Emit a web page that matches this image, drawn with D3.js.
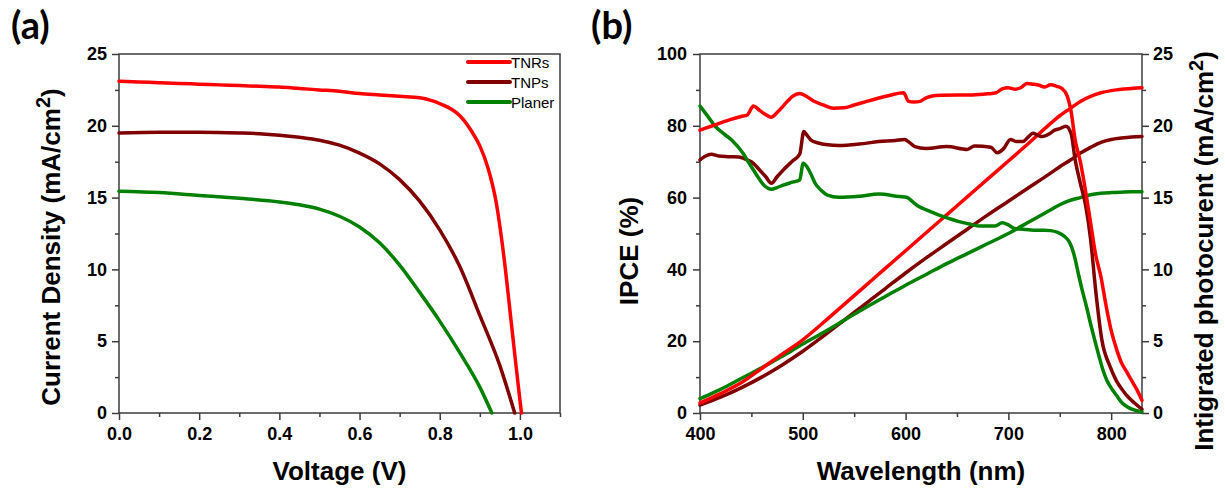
<!DOCTYPE html>
<html>
<head>
  <meta charset="utf-8">
  <title>J-V and IPCE</title>
  <script src="https://cdn.jsdelivr.net/npm/d3@7"></script>
  <style>
    body { margin: 0; background: #fff; }
    svg text { font-family: 'Liberation Sans', Arial, sans-serif; fill: #000; }
    .axis path { display: none; }
    .axis line { stroke: #3c3c3c; stroke-width: 1.5px; }
    .axis text { font-size: 18px; font-weight: bold; }
    .frame { fill: none; stroke: #3c3c3c; stroke-width: 1.5px; }
    .title { font-size: 26px; font-weight: bold; }
    .panel { font-family: Lato, 'Open Sans', sans-serif !important; font-size: 38px; font-weight: bold; }
    .legend { font-size: 15px; }
    .curve { fill: none; stroke-width: 3.5px; stroke-linejoin: round; stroke-linecap: round; }
  </style>
</head>
<body>
<svg id="chart" width="1225" height="491"></svg>

<script>
// ---- data ----
var seriesNames = ['TNRs', 'TNPs', 'Planer'];
var seriesColors = ['#ff0000', '#800000', '#008000'];

// (a) J-V curves: voltage (V), current density (mA/cm2)
var jvVoltTNRs = [0, 0.05, 0.1, 0.15, 0.2, 0.25, 0.3, 0.35, 0.4, 0.45, 0.5, 0.55, 0.6, 0.65, 0.7, 0.75, 0.78, 0.8, 0.82, 0.84, 0.86, 0.88, 0.9, 0.92, 0.94, 0.96, 0.98, 1.0, 1.004];
var jvCurrTNRs = [23.1, 23.05, 23.0, 22.95, 22.9, 22.85, 22.8, 22.75, 22.7, 22.6, 22.5, 22.4, 22.25, 22.15, 22.05, 21.95, 21.75, 21.55, 21.3, 20.95, 20.4, 19.6, 18.6, 17.1, 14.8, 10.9, 5.9, 0.9, 0];
var jvVoltTNPs = [0, 0.1, 0.2, 0.3, 0.35, 0.4, 0.45, 0.5, 0.55, 0.6, 0.65, 0.7, 0.75, 0.8, 0.85, 0.9, 0.95, 0.987];
var jvCurrTNPs = [19.5, 19.55, 19.55, 19.5, 19.45, 19.35, 19.2, 19.0, 18.65, 18.1, 17.35, 16.25, 14.75, 12.75, 10.2, 6.8, 3.3, 0];
var jvVoltPlaner = [0, 0.1, 0.2, 0.3, 0.4, 0.45, 0.5, 0.55, 0.6, 0.65, 0.7, 0.75, 0.8, 0.85, 0.9, 0.93];
var jvCurrPlaner = [15.45, 15.35, 15.15, 14.95, 14.7, 14.5, 14.2, 13.7, 12.95, 11.85, 10.3, 8.4, 6.4, 4.2, 1.8, 0];

// (b) IPCE (%) vs wavelength (nm)
var ipceWaveTNRs = [400, 410, 420, 430, 440, 446, 452, 458, 463, 469, 476, 485, 490, 497, 503, 510, 520, 530, 540, 550, 560, 575, 585, 594, 598, 603, 608, 614, 620, 626, 635, 650, 665, 680, 688, 694, 700, 706, 712, 718, 724, 730, 735, 741, 747, 752, 757, 761, 765, 770, 775, 780, 785, 790, 795, 800, 805, 810, 815, 820, 825, 830];
var ipceTNRs = [78.8, 79.8, 80.8, 81.8, 82.6, 83.0, 85.5, 84.3, 83.3, 82.4, 84.0, 86.8, 88.2, 89.0, 88.3, 87.0, 85.8, 84.9, 85.0, 85.8, 86.6, 87.8, 88.5, 89.1, 89.2, 86.8, 86.6, 86.8, 87.8, 88.3, 88.5, 88.6, 88.6, 88.9, 89.2, 90.3, 90.6, 90.2, 90.6, 91.8, 91.6, 91.3, 90.8, 91.4, 91.0, 90.4, 88.5, 84.0, 76.0, 70.0, 62.0, 53.0, 44.0, 38.0, 30.0, 23.0, 18.0, 14.0, 11.5, 9.0, 6.5, 3.5];
var ipceWaveTNPs = [400, 405, 411, 418, 427, 438, 445, 450, 458, 464, 469.5, 475, 481, 490, 497, 501, 504, 508, 515, 524, 535, 555, 574, 590, 599, 604, 609, 620, 640, 660, 667, 683, 689, 695, 702, 708, 714, 719, 724, 729, 733, 740, 745, 750, 756, 761, 765, 770, 775, 780, 785, 791, 799, 805, 811, 817, 823, 830];
var ipceTNPs = [70.5, 71.5, 72.1, 71.6, 71.4, 71.3, 70.6, 70.0, 67.7, 65.8, 64.0, 65.8, 67.7, 70.2, 72.1, 78.4, 77.4, 76.0, 75.2, 74.7, 74.5, 74.9, 75.6, 75.9, 76.2, 75.3, 74.2, 73.7, 74.2, 73.4, 74.4, 74.0, 72.5, 73.5, 76.2, 75.6, 75.6, 76.8, 77.9, 77.3, 77.0, 77.8, 78.8, 79.2, 79.9, 77.9, 70.5, 64.0, 58.0, 48.4, 34.0, 20.3, 12.9, 9.0, 6.4, 4.3, 2.7, 1.0];
var ipceWavePlaner = [400, 408, 415, 423, 431, 442, 448, 454, 462, 469.5, 475, 481, 490, 497, 500.4, 504, 508, 512, 518, 524, 535, 555, 574, 594, 601, 607, 613, 622, 632, 642, 652, 661, 671, 680, 687, 694, 700, 706, 714, 722, 732, 741, 748, 755, 759, 764, 768, 772, 776, 780, 784, 788, 792, 796, 800, 805, 811, 817, 823, 830];
var ipcePlaner = [85.5, 82.5, 79.8, 77.8, 76.0, 72.3, 69.5, 66.8, 63.5, 62.3, 62.8, 63.5, 64.3, 64.9, 69.6, 68.6, 66.5, 64.0, 62.0, 60.7, 60.1, 60.4, 61.0, 60.3, 60.1, 58.8, 57.5, 56.4, 55.2, 54.2, 53.3, 52.7, 52.1, 52.1, 52.1, 53.0, 52.4, 51.4, 51.2, 51.0, 50.9, 50.8, 50.3, 49.1, 47.8, 44.0, 38.9, 34.0, 29.6, 24.8, 20.3, 16.0, 12.0, 9.0, 7.0, 5.0, 2.7, 1.5, 0.8, 0.3];

// (b) integrated photocurrent (mA/cm2) vs wavelength (nm)
var integWave = [400, 420, 440, 460, 480, 500, 520, 540, 560, 580, 600, 620, 640, 660, 680, 700, 720, 740, 750, 760, 770, 780, 790, 800, 810, 820, 830];
var integTNRs = [0.7, 1.35, 2.1, 3.1, 4.1, 5.1, 6.3, 7.55, 8.8, 10.05, 11.3, 12.55, 13.8, 15.05, 16.3, 17.55, 18.8, 20.1, 20.7, 21.2, 21.7, 22.05, 22.3, 22.45, 22.55, 22.6, 22.65];
var integTNPs = [0.55, 1.1, 1.75, 2.5, 3.35, 4.3, 5.35, 6.45, 7.55, 8.65, 9.75, 10.8, 11.8, 12.8, 13.8, 14.75, 15.7, 16.65, 17.15, 17.6, 18.1, 18.5, 18.85, 19.05, 19.15, 19.22, 19.25];
var integPlaner = [1.0, 1.65, 2.4, 3.15, 3.95, 4.8, 5.6, 6.45, 7.3, 8.1, 8.9, 9.65, 10.4, 11.1, 11.8, 12.5, 13.3, 14.1, 14.5, 14.8, 15.0, 15.2, 15.3, 15.35, 15.38, 15.4, 15.4];

var svg = d3.select('#chart');

function zip(xs, ys) { return xs.map((x, i) => [x, ys[i]]); }

// adds major (labelled) and minor ticks on one side
function addAxis(g, axisFn, scale, major, minor, fmt, pad, transform) {
  g.append('g').attr('class', 'axis').attr('transform', transform)
    .call(axisFn(scale).tickValues(major).tickFormat(fmt).tickSize(7).tickSizeOuter(0).tickPadding(pad));
  g.append('g').attr('class', 'axis').attr('transform', transform)
    .call(axisFn(scale).tickValues(minor).tickFormat('').tickSize(4).tickSizeOuter(0));
}

// ================= panel (a) =================
var xA = d3.scaleLinear().domain([0, 1.1]).range([119, 560]);
var yA = d3.scaleLinear().domain([0, 25]).range([413, 54]);

var gA = svg.append('g');
gA.append('rect').attr('class', 'frame')
  .attr('x', xA(0)).attr('y', yA(25))
  .attr('width', xA(1.1) - xA(0)).attr('height', yA(0) - yA(25));

addAxis(gA, d3.axisBottom, xA, [0, 0.2, 0.4, 0.6, 0.8, 1.0], [0.1, 0.3, 0.5, 0.7, 0.9, 1.1], d3.format('.1f'), 7, 'translate(0,' + yA(0) + ')');
addAxis(gA, d3.axisLeft, yA, [0, 5, 10, 15, 20, 25], [2.5, 7.5, 12.5, 17.5, 22.5], d3.format('d'), 5, 'translate(' + xA(0) + ',0)');

var lineA = d3.line().x(d => xA(d[0])).y(d => yA(d[1])).curve(d3.curveMonotoneX);
var jvData = [zip(jvVoltTNRs, jvCurrTNRs), zip(jvVoltTNPs, jvCurrTNPs), zip(jvVoltPlaner, jvCurrPlaner)];

gA.selectAll('.jv')
  .data(jvData)
  .enter()
  .append('path')
  .attr('class', 'curve')
  .attr('stroke', (d, i) => seriesColors[i])
  .attr('d', lineA);

// legend
var leg = gA.selectAll('.leg')
  .data(seriesNames)
  .enter()
  .append('g')
  .attr('transform', (d, i) => 'translate(468,' + (62 + i * 20) + ')');
leg.append('line').attr('x1', 0).attr('x2', 42)
  .attr('stroke', (d, i) => seriesColors[i]).attr('stroke-width', 4).attr('stroke-linecap', 'round');
leg.append('text').attr('class', 'legend').attr('x', 43).attr('y', 5.5).text(d => d);

gA.append('text').attr('class', 'title')
  .attr('x', (xA(0) + xA(1.1)) / 2).attr('y', 480).attr('text-anchor', 'middle')
  .text('Voltage (V)');

var tA = gA.append('text').attr('class', 'title')
  .attr('transform', 'translate(60,247) rotate(-90)').attr('text-anchor', 'middle');
tA.append('tspan').text('Current Density (mA/cm');
tA.append('tspan').attr('dy', -10).attr('font-size', 20).text('2');
tA.append('tspan').attr('dy', 10).text(')');

svg.append('text').attr('class', 'panel').attr('x', 11).attr('y', 39).text('(a)');

// ================= panel (b) =================
var xB = d3.scaleLinear().domain([400, 830]).range([700, 1142]);
var yB = d3.scaleLinear().domain([0, 100]).range([413, 54]);
var yB2 = d3.scaleLinear().domain([0, 25]).range([413, 54]);

var gB = svg.append('g');
gB.append('rect').attr('class', 'frame')
  .attr('x', xB(400)).attr('y', yB(100))
  .attr('width', xB(830) - xB(400)).attr('height', yB(0) - yB(100));

addAxis(gB, d3.axisBottom, xB, [400, 500, 600, 700, 800], [450, 550, 650, 750], d3.format('d'), 7, 'translate(0,' + yB(0) + ')');
addAxis(gB, d3.axisLeft, yB, [0, 20, 40, 60, 80, 100], [10, 30, 50, 70, 90], d3.format('d'), 6, 'translate(' + xB(400) + ',0)');
addAxis(gB, d3.axisRight, yB2, [0, 5, 10, 15, 20, 25], [2.5, 7.5, 12.5, 17.5, 22.5], d3.format('d'), 4, 'translate(' + xB(830) + ',0)');

var lineIpce = d3.line().x(d => xB(d[0])).y(d => yB(d[1])).curve(d3.curveMonotoneX);
var lineInteg = d3.line().x(d => xB(d[0])).y(d => yB2(d[1])).curve(d3.curveMonotoneX);

var ipceData = [zip(ipceWaveTNRs, ipceTNRs), zip(ipceWaveTNPs, ipceTNPs), zip(ipceWavePlaner, ipcePlaner)];
var integData = [zip(integWave, integTNRs), zip(integWave, integTNPs), zip(integWave, integPlaner)];
var order = [1, 2, 0];  // draw maroon, green, then red on top

order.forEach(i => {
  gB.append('path').attr('class', 'curve').attr('stroke', seriesColors[i]).attr('d', lineInteg(integData[i]));
});
order.forEach(i => {
  gB.append('path').attr('class', 'curve').attr('stroke', seriesColors[i]).attr('d', lineIpce(ipceData[i]));
});

gB.append('text').attr('class', 'title')
  .attr('x', (xB(400) + xB(830)) / 2).attr('y', 480).attr('text-anchor', 'middle')
  .text('Wavelength (nm)');

gB.append('text').attr('class', 'title')
  .attr('transform', 'translate(638,251) rotate(-90)').attr('text-anchor', 'middle')
  .text('IPCE (%)');

var tB = gB.append('text').attr('class', 'title')
  .attr('transform', 'translate(1213,251) rotate(-90)').attr('text-anchor', 'middle');
tB.append('tspan').text('Intigrated photocurent (mA/cm');
tB.append('tspan').attr('dy', -10).attr('font-size', 20).text('2');
tB.append('tspan').attr('dy', 10).text(')');

svg.append('text').attr('class', 'panel').attr('x', 591).attr('y', 39).text('(b)');
</script>
</body>
</html>
